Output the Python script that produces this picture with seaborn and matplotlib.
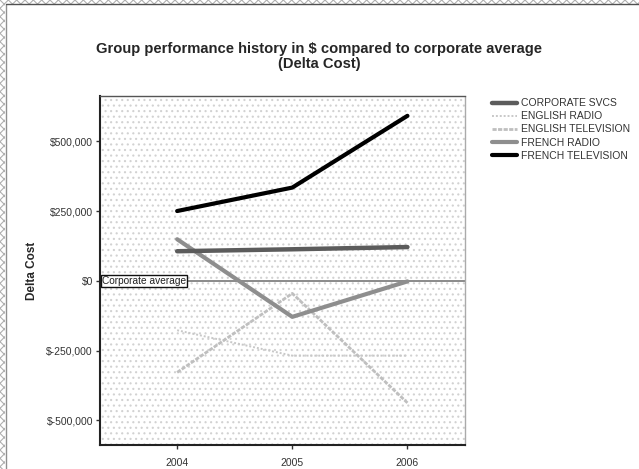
import matplotlib
matplotlib.use("Agg")
import matplotlib.pyplot as plt
import matplotlib.ticker as mticker
from matplotlib.patches import Rectangle
import seaborn as sns
import pandas as pd

years = [2004, 2005, 2006]
groups = ["CORPORATE SVCS", "ENGLISH RADIO", "ENGLISH TELEVISION",
          "FRENCH RADIO", "FRENCH TELEVISION"]
corporate_svcs = [106000, 113000, 121000]
english_radio = [-177000, -268000, -268000]
english_television = [-328000, -45000, -437000]
french_radio = [149000, -129000, -2000]
french_television = [250000, 334000, 591000]
series = [corporate_svcs, english_radio, english_television,
          french_radio, french_television]
y_ticks = [-500000, -250000, 0, 250000, 500000]

df = pd.DataFrame({
    "Year": years * len(groups),
    "Delta Cost": [v for s in series for v in s],
    "Group": [g for g in groups for _ in years],
})

styles = {
    "CORPORATE SVCS": dict(color="#5c5c5c", lw=3.2, ls="-", z=4),
    "ENGLISH RADIO": dict(color="#c8c8c8", lw=1.4, ls=(0, (1.0, 1.0)), z=2),
    "ENGLISH TELEVISION": dict(color="#bfbfbf", lw=2.0, ls=(0, (1.5, 0.5)), z=2),
    "FRENCH RADIO": dict(color="#8e8e8e", lw=3.0, ls="-", z=3),
    "FRENCH TELEVISION": dict(color="#000000", lw=3.0, ls="-", z=5),
}

sns.set_style("white")
plt.rcParams["font.family"] = ["Liberation Sans", "DejaVu Sans"]
plt.rcParams["hatch.linewidth"] = 0.8

fig = plt.figure(figsize=(6.39, 4.69), dpi=100)
ax = fig.add_axes([100 / 639, 1 - 445 / 469, 365 / 639, 349 / 469])

# dotted plot-area texture
ax.add_patch(Rectangle((0, 0), 1, 1, transform=ax.transAxes, facecolor="white",
                       edgecolor="#d2d2d2", hatch="...", lw=0, zorder=0))

for g in groups:
    st = styles[g]
    sub = df[df["Group"] == g]
    sns.lineplot(data=sub, x="Year", y="Delta Cost", ax=ax, color=st["color"],
                 linewidth=st["lw"], linestyle=st["ls"], label=g,
                 zorder=st["z"], legend=False)

# corporate average reference line
ax.axhline(0, color="#8a8a8a", lw=1.4, zorder=1.5)
ax.text(2003.345, 0, "Corporate average", fontsize=7.3, va="center", ha="left",
        color="#222222", zorder=6,
        bbox=dict(boxstyle="square,pad=0.12", facecolor="white",
                  edgecolor="#111111", lw=1.0))

ax.set_xlim(2003.33, 2006.5)
ax.set_ylim(-588000, 662000)
ax.set_xticks(years)
ax.set_xticklabels([str(y) for y in years])
ax.set_yticks(y_ticks)
ax.yaxis.set_major_formatter(mticker.FuncFormatter(
    lambda v, p: "$" + ("-" if v < 0 else "") + f"{abs(int(v)):,}"))
ax.tick_params(axis="both", labelsize=7.5, labelcolor="#333333", length=3,
               width=1, color="#333333", direction="out", pad=2)
ax.tick_params(axis="y", left=True)
ax.tick_params(axis="x", bottom=True, pad=6)

ax.set_xlabel("")
ax.set_ylabel("Delta Cost", fontsize=8.5, fontweight="bold")
ax.yaxis.set_label_coords(-0.17, 0.5)

for side in ["left", "bottom"]:
    ax.spines[side].set_color("#222222")
    ax.spines[side].set_linewidth(1.5)
ax.spines["top"].set_color("#555555")
ax.spines["top"].set_linewidth(1.0)
ax.spines["right"].set_color("#aaaaaa")
ax.spines["right"].set_linewidth(1.0)
ax.spines["right"].set_linestyle((0, (1, 1)))

handles, labels = ax.get_legend_handles_labels()
leg = fig.legend(handles, labels, loc="upper left",
                 bbox_to_anchor=(488 / 639, 1 - 94 / 469), frameon=False,
                 fontsize=7.5, handlelength=2.4, handletextpad=0.35,
                 labelspacing=0.3, borderaxespad=0)
for t in leg.get_texts():
    t.set_color("#333333")

fig.text(0.5, 1 - 49 / 469, "Group performance history in $ compared to corporate average",
         ha="center", va="center", fontsize=10.6, fontweight="bold")
fig.text(0.5, 1 - 64 / 469, "(Delta Cost)", ha="center", va="center",
         fontsize=10.6, fontweight="bold")

# outer frame strips
fig.add_artist(Rectangle((0, 1 - 4 / 469), 1, 4 / 469, transform=fig.transFigure,
                         facecolor="white", edgecolor="#b0b0b0", hatch="xxxx",
                         lw=0))
fig.add_artist(Rectangle((0, 0), 5 / 639, 1, transform=fig.transFigure,
                         facecolor="white", edgecolor="#b0b0b0", hatch="xxxx",
                         lw=0))
fig.add_artist(plt.Line2D([5.5 / 639, 5.5 / 639], [0, 1 - 4 / 469],
                          transform=fig.transFigure, color="#909090", lw=1))
fig.add_artist(plt.Line2D([5.5 / 639, 1], [1 - 4.5 / 469, 1 - 4.5 / 469],
                          transform=fig.transFigure, color="#505050", lw=1))

fig.savefig("out.png", dpi=100)
